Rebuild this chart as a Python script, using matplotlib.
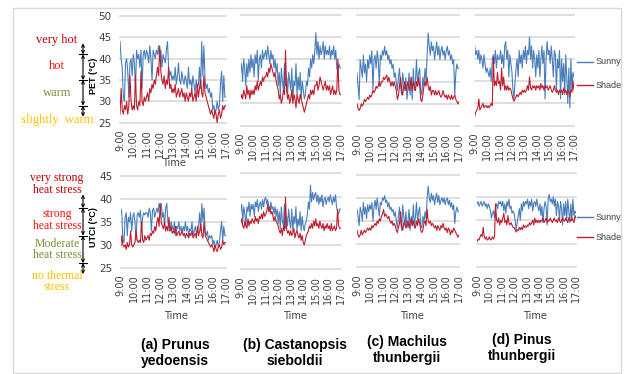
import numpy as np
import matplotlib
matplotlib.use('Agg')
import matplotlib.pyplot as plt
import matplotlib.transforms as mtransforms
from matplotlib.lines import Line2D
from matplotlib.patches import Rectangle

# 5-minute readings, 9:00 .. 17:00 (one row per hour, last value = 17:00)
pet_sunny_a = [44, 40, 38, 31, 30, 39, 40, 37, 31, 39, 40, 36,
               41, 39, 33, 42, 40, 41, 38, 42, 33, 41, 42, 40,
               42, 41, 39, 43, 40, 35, 42, 41, 40, 42, 41, 43,
               40, 42, 38, 41, 40, 39, 42, 44, 38, 36, 37, 35,
               36, 35, 38, 34, 36, 39, 35, 34, 37, 35, 34, 36,
               35, 33, 38, 34, 35, 33, 36, 34, 32, 35, 33, 34,
               38, 33, 44, 36, 43, 35, 33, 34, 32, 33, 31, 32,
               28, 29, 27, 28, 30, 28, 29, 34, 37, 30, 36, 31,
               31]
pet_shade_a = [27, 33, 28, 27, 29, 28, 30, 27, 29, 36, 30, 28,
               29, 28, 36, 29, 28, 30, 29, 37, 30, 29, 31, 30,
               31, 32, 30, 33, 32, 34, 33, 35, 34, 36, 38, 36,
               43, 37, 35, 34, 36, 33, 35, 34, 38, 33, 34, 32,
               33, 32, 34, 31, 32, 33, 31, 32, 33, 31, 32, 30,
               32, 31, 30, 32, 31, 33, 30, 31, 32, 30, 34, 31,
               33, 35, 32, 31, 36, 32, 31, 30, 29, 28, 27, 28,
               27, 26, 28, 27, 25, 27, 28, 26, 27, 29, 28, 29,
               29]
pet_sunny_b = [37, 39, 35, 40, 38, 34, 39, 36, 40, 37, 41, 38,
               40, 36, 41, 39, 42, 35, 40, 41, 38, 42, 40, 41,
               42, 40, 43, 41, 39, 42, 40, 41, 38, 40, 37, 39,
               34, 37, 32, 38, 35, 33, 39, 34, 36, 32, 37, 35,
               33, 38, 31, 35, 34, 39, 32, 36, 33, 37, 31, 35,
               33, 31, 32, 35, 34, 38, 36, 40, 38, 41, 39, 42,
               46, 41, 44, 40, 43, 41, 42, 44, 40, 43, 41, 42,
               41, 43, 40, 42, 41, 43, 40, 42, 38, 37, 39, 38,
               38]
pet_shade_b = [31, 32, 31, 33, 32, 31, 34, 32, 33, 31, 33, 32,
               33, 32, 34, 33, 35, 33, 34, 35, 34, 36, 35, 36,
               36, 37, 36, 38, 37, 39, 38, 37, 36, 37, 35, 34,
               33, 31, 32, 30, 31, 33, 32, 42, 33, 31, 32, 30,
               31, 33, 30, 32, 31, 29, 32, 31, 30, 32, 31, 30,
               29, 28, 29, 30, 31, 32, 31, 33, 32, 33, 32, 34,
               34, 35, 33, 34, 36, 35, 34, 33, 34, 35, 33, 34,
               33, 34, 32, 33, 34, 32, 33, 32, 33, 40, 33, 32,
               32]
pet_sunny_c = [37, 34, 31, 40, 38, 36, 41, 37, 39, 35, 40, 38,
               41, 39, 42, 33, 40, 41, 38, 42, 40, 34, 41, 40,
               42, 41, 43, 41, 42, 40, 41, 39, 40, 38, 39, 36,
               37, 35, 33, 36, 38, 34, 32, 37, 35, 33, 36, 31,
               34, 37, 32, 36, 31, 38, 33, 35, 40, 34, 37, 38,
               33, 32, 36, 34, 38, 35, 41, 46, 43, 41, 44, 42,
               43, 40, 42, 44, 41, 43, 40, 42, 43, 41, 42, 40,
               42, 43, 41, 42, 40, 41, 39, 40, 32, 37, 39, 38,
               38]
pet_shade_c = [30, 29, 28.5, 29, 30, 29.5, 30, 31, 30.5, 31, 31.5, 31,
               32, 31.5, 32, 33, 32.5, 33, 34, 33.5, 34, 35, 34, 35,
               35, 36, 35.5, 36, 36.5, 35, 36, 35, 34, 35, 34, 35,
               34, 33, 31, 32, 34, 36, 33, 32, 34, 35, 33, 34,
               35, 33, 34, 36, 33, 35, 34, 33, 35, 34, 36, 34,
               31, 30.5, 32, 34, 35, 34, 36, 34, 33, 34, 32, 33,
               33, 32, 33, 32, 32.5, 33, 32, 31.5, 32, 33, 32, 31.5,
               32, 31, 32, 31.5, 31, 32, 31, 31.5, 32, 31, 30.5, 30,
               30.5]
pet_sunny_d = [43, 41, 42, 40, 42, 39, 41, 40, 38, 41, 39, 37,
               38, 37, 36, 38, 35, 40, 41, 39, 42, 38, 41, 40,
               40, 42, 39, 41, 38, 43, 44, 40, 42, 36, 41, 39,
               37, 33, 31, 35, 38, 40, 36, 42, 39, 41, 38, 42,
               40, 43, 39, 42, 41, 45, 40, 43, 38, 42, 40, 36,
               41, 38, 42, 36, 40, 43, 39, 42, 31, 40, 44, 41,
               42, 39, 43, 40, 36, 42, 41, 33, 40, 38, 42, 31,
               40, 35, 39, 32, 41, 36, 30, 38, 29, 40, 33, 37,
               36]
pet_shade_d = [27, 28, 28.5, 29, 31, 28.5, 29, 29.5, 30, 29, 29.5, 29.5,
               29, 29.5, 29, 29.5, 30, 29.5, 40.5, 34, 35, 34, 37, 34.5,
               35, 33, 38, 34, 36, 33, 34, 33, 34, 33, 33.5, 33,
               32, 31, 30.5, 31, 31.5, 32, 31.5, 32, 32.5, 32, 33, 32.5,
               33, 32.5, 33, 34, 33, 36, 33.5, 33, 34, 33.5, 34, 33,
               34, 33.5, 34, 33, 34.5, 33.5, 34, 33, 34, 33.5, 34, 33,
               33.5, 34, 33, 32.5, 33, 34, 33, 32.5, 33, 32, 33, 32.5,
               33, 32, 33.5, 32.5, 33, 32, 33, 32.5, 31.5, 33, 32.5, 35,
               33]

utci_sunny_a = [38, 37, 31, 30.5, 36, 37, 32, 36, 35, 37, 33, 36,
                37, 35, 31, 36.5, 37, 36, 37.5, 33, 36, 37, 36.5, 37,
                37, 36, 38, 37, 33, 37.5, 38, 36, 37, 38, 37, 39,
                38, 39, 36, 37, 34, 38, 39, 35, 34, 33, 35, 34,
                33, 35, 32, 34, 33.5, 35, 33, 34, 32.5, 34, 33, 35,
                33, 34, 32, 33.5, 33, 35, 32, 33, 34, 32.5, 33, 34,
                37, 33, 39, 35, 38, 33, 32, 33, 31, 32, 31.5, 32,
                30, 31, 29.5, 30, 31, 29.5, 30.5, 33, 35, 31, 34, 32,
                32]
utci_shade_a = [29.5, 32, 30, 29.5, 30, 29, 30.5, 29.5, 30, 33, 30, 29.5,
                30, 30.5, 33, 31, 30.5, 31, 30.5, 35, 31, 30.5, 32, 31,
                31.5, 32, 31, 32.5, 32, 33, 32.5, 34, 33, 35, 36, 34,
                39, 35, 34, 33.5, 35, 33, 34, 33, 36, 33, 34, 32.5,
                33, 32.5, 34, 32, 32.5, 33, 32, 32.5, 33, 32, 32.5, 31.5,
                32.5, 32, 31.5, 32.5, 32, 33, 31.5, 32, 32.5, 31.5, 34, 32,
                33, 34.5, 32, 31.5, 35, 32, 31.5, 31, 30.5, 30, 29.5, 30,
                29.5, 28.5, 30, 29, 28.5, 29.5, 30, 29, 29.5, 31, 30, 30.5,
                30.5]
utci_sunny_b = [37, 38.5, 35, 38, 36.5, 34, 38, 37, 39, 36, 38.5, 37.5,
                38.5, 36, 39, 38, 39.5, 37, 38.5, 39, 37.5, 39.5, 38, 39.5,
                40, 38.5, 39.5, 38, 37, 39, 37.5, 38, 36.5, 38, 36, 37.5,
                34.5, 37, 33.5, 38, 35, 34, 38.5, 33.5, 36, 34, 37.5, 35,
                33.5, 37.5, 33, 36, 34.5, 38, 33, 35.5, 34, 37, 33, 36,
                34, 33, 34.5, 35, 36.5, 39, 37.5, 42.5, 39, 41, 39.5, 40.5,
                41, 39, 40.5, 38.5, 40, 39, 40.5, 38, 39.5, 40, 38.5, 39.5,
                40, 39, 40.5, 39.5, 38.5, 40, 39, 40.5, 38, 37, 36.5, 37.5,
                37.5]
utci_shade_b = [34.5, 35.5, 34, 33.5, 35, 34, 33.5, 35.5, 34, 35, 34.5, 35.5,
                35, 34.5, 36, 35, 35.5, 34.5, 36, 35.5, 36.5, 35.5, 37, 36,
                36.5, 37, 38.5, 37, 38, 36.5, 37, 36, 35, 36, 35, 34.5,
                34, 33, 32.5, 33.5, 32, 34, 33, 40, 33.5, 32.5, 33, 32,
                33, 32, 32.5, 33.5, 31.5, 32.5, 33, 32, 31.5, 32.5, 31, 32,
                30.5, 30, 31, 32, 32.5, 33, 34, 33.5, 34.5, 33.5, 35, 34,
                35.5, 34, 34.5, 33.5, 35, 34, 33.5, 34.5, 33, 34, 33.5, 34.5,
                33.5, 34, 33, 34.5, 33, 33.5, 34, 33, 33.5, 37.5, 34, 33.5,
                33.5]
utci_sunny_c = [37.5, 36, 34, 38, 37, 35, 39, 36.5, 38, 35.5, 38.5, 37,
                38.5, 37.5, 39, 35, 38, 39.5, 37.5, 40, 38, 36, 39, 38.5,
                40, 39.5, 40.5, 39, 39.5, 38, 39, 37.5, 38, 37, 37.5, 36,
                37, 35, 33.5, 36, 38, 35, 33, 38.5, 36, 34, 37, 33.5,
                35, 37.5, 33, 36, 34, 38.5, 33.5, 36, 39, 35, 37, 38,
                34, 33.5, 36, 34.5, 37, 35.5, 40, 42.5, 40, 39, 41, 39.5,
                40.5, 38.5, 40, 41, 39, 40.5, 38.5, 39.5, 40, 39, 40, 38.5,
                39.5, 40, 38.5, 39.5, 38, 39, 37.5, 38.5, 34.5, 37, 38, 37,
                37]
utci_shade_c = [33, 32, 31.5, 32, 33, 32, 32.5, 33, 32.5, 33, 33.5, 33,
                33.5, 33, 34, 33.5, 34, 34.5, 34, 35, 34.5, 35.5, 35, 36,
                36.5, 37.5, 36, 36.5, 36, 35.5, 36, 35, 34.5, 35, 34, 34.5,
                34, 33, 32.5, 33.5, 34.5, 37, 34, 33, 34.5, 35, 33.5, 34,
                35, 33.5, 34.5, 35.5, 34, 35, 34, 33.5, 35, 34, 35.5, 34.5,
                33, 32.5, 33, 34.5, 35, 34, 37.5, 35, 34.5, 35, 34, 34.5,
                34, 33.5, 34, 33, 34, 33.5, 33, 34, 33.5, 34.5, 33.5, 33,
                33.5, 32.5, 33.5, 33, 32, 33, 32.5, 33.5, 33, 32.5, 32, 31.5,
                32]
utci_sunny_d = [38.5, 39, 38, 38.5, 39, 38, 38.5, 39, 38, 38.5, 37.5, 38.5,
                38, 37, 35.5, 36.5, 37, 35.5, 38, 38.5, 37.5, 39, 38.5, 39,
                38, 39, 37, 38.5, 36.5, 39, 38, 39.5, 37.5, 38, 36.5, 37,
                36.5, 35, 33, 34.5, 36, 37.5, 35, 38.5, 37, 39, 38, 39,
                38.5, 39.5, 37.5, 39, 38, 39.5, 37, 38.5, 39, 38, 39.5, 38,
                37, 38.5, 36, 38, 34.5, 37.5, 39, 38, 34, 39.5, 40.5, 39,
                39.5, 38.5, 40, 38, 39.5, 36, 39, 38, 35, 39, 37.5, 34,
                38.5, 36, 39, 35, 39.5, 37, 34.5, 38.5, 35, 39.5, 36, 37,
                36.5]
utci_shade_d = [30.5, 31, 30.8, 31.5, 32, 31.5, 33.5, 31.5, 31, 31.5, 30.8, 31,
                31.5, 30.8, 31, 31.5, 31, 31.5, 38.5, 35, 34.5, 35.5, 34, 35,
                34.5, 35.5, 36.5, 34.5, 35, 34, 36, 34.5, 34, 34.5, 34, 33.5,
                33.5, 33, 32.5, 33, 32.8, 33.5, 33, 33.5, 33, 34, 33.5, 33.8,
                33.5, 34, 33.8, 34.5, 34, 34.5, 35, 34, 35.5, 34.5, 35, 34.5,
                35, 34.5, 35, 34.8, 35.5, 34.5, 35, 35.5, 34.5, 35, 34.8, 35.5,
                35, 34.5, 35, 35.5, 34.8, 35, 34.5, 35.5, 35, 34.5, 35, 35.5,
                35, 34.8, 35.5, 35, 34.5, 35.5, 35, 34.8, 35.5, 35, 34.5, 36,
                35.5]

hours = [9, 10, 11, 12, 13, 14, 15, 16, 17]
hour_labels = ['9:00', '10:00', '11:00', '12:00', '13:00', '14:00', '15:00', '16:00', '17:00']
species = ['(a) Prunus\nyedoensis', '(b) Castanopsis\nsieboldii',
           '(c) Machilus\nthunbergii', '(d) Pinus\nthunbergii']

pet_levels = ['very hot', 'hot', 'warm', 'slightly  warm']
pet_limits = [41, 35, 29]
utci_levels = ['very strong\nheat stress', 'strong\nheat stress',
               'Moderate\nheat stress', 'no thermal\nstress']
utci_limits = [38, 32, 26]
level_colors = ['#C00000', '#FF1010', '#76923C', '#FFC000']

SUNNY = '#4A7EBB'
SHADE = '#BE1E2D'
GRID = '#D9D9D9'
TXT = '#404040'

W, H = 627, 374


def fx(px):
    return px / W


def fy(py):
    return 1 - py / H


def box(x0, x1, y0, y1):
    return [fx(x0), fy(y1), (x1 - x0) / W, (y1 - y0) / H]


def draw_panel(ax, sunny, shade, ylim, show_y):
    for vals, col in [(sunny, SUNNY), (shade, SHADE)]:
        t = 9 + np.arange(len(vals)) * 8 / (len(vals) - 1)
        ax.plot(t, vals, color=col, lw=0.8)
    ax.set_xlim(9, 17)
    ax.set_ylim(*ylim)
    ax.set_yticks(np.arange(ylim[0], ylim[1] + 1, 5))
    ax.yaxis.grid(True, color=GRID, lw=1.2)
    for gl in ax.get_ygridlines():
        gl.set_clip_on(False)
    ax.set_axisbelow(True)
    for s in ax.spines.values():
        s.set_visible(False)
    ax.set_xticks(hours)
    ax.set_xticklabels(hour_labels, rotation=90, fontsize=7, color=TXT)
    ax.tick_params(length=0, pad=5)
    ax.tick_params(axis='y', pad=6, labelsize=7.5, labelcolor=TXT)
    if not show_y:
        ax.set_yticklabels([])


fig = plt.figure(figsize=(W / 100, H / 100), dpi=100)

top_boxes = [box(120, 226, 16, 122.7), box(240.5, 341, 15, 125.5),
             box(357, 459, 15.3, 126), box(474.7, 574, 15, 125.5)]
bot_boxes = [box(120.7, 226, 176, 267.7), box(240.7, 340.7, 173.3, 269),
             box(357, 459, 174.7, 267.3), box(477, 576, 173.3, 267.3)]

pet_data = [(pet_sunny_a, pet_shade_a), (pet_sunny_b, pet_shade_b),
            (pet_sunny_c, pet_shade_c), (pet_sunny_d, pet_shade_d)]
utci_data = [(utci_sunny_a, utci_shade_a), (utci_sunny_b, utci_shade_b),
             (utci_sunny_c, utci_shade_c), (utci_sunny_d, utci_shade_d)]

top_axes = []
bot_axes = []
for i in range(4):
    ax = fig.add_axes(top_boxes[i])
    draw_panel(ax, pet_data[i][0], pet_data[i][1], (25, 50), i == 0)
    top_axes.append(ax)
    ax = fig.add_axes(bot_boxes[i])
    draw_panel(ax, utci_data[i][0], utci_data[i][1], (25, 45), i == 0)
    bot_axes.append(ax)


def comfort_scale(ax, levels, limits, ends, text_y, ax_x, bar_x, lab_x, fs):
    tr = mtransforms.blended_transform_factory(ax.transAxes, ax.transData)
    stops = [ends[0]] + limits + [ends[1]]
    for a, b in zip(stops[:-1], stops[1:]):
        ax.annotate('', xy=(ax_x, b), xytext=(ax_x, a), xycoords=tr, textcoords=tr,
                    arrowprops=dict(arrowstyle='<->', lw=0.8, color='black',
                                    mutation_scale=5, shrinkA=0, shrinkB=0),
                    annotation_clip=False)
    for lim in limits:
        ax.plot(bar_x, [lim, lim], color='black', lw=0.8, transform=tr, clip_on=False)
    for txt, y, col in zip(levels, text_y, level_colors):
        ax.text(lab_x, y, txt, transform=tr, color=col, ha='center', va='center',
                fontsize=fs, family=['Liberation Serif', 'DejaVu Serif'],
                linespacing=0.95, clip_on=False)


comfort_scale(top_axes[0], pet_levels, pet_limits, (43.6, 26.4), [44.3, 38.3, 32, 25.7],
              -0.349, [-0.387, -0.311], -0.594, 9)
comfort_scale(bot_axes[0], utci_levels, utci_limits, (41, 23.6), [43.2, 35.4, 29, 22],
              -0.358, [-0.396, -0.32], -0.605, 8.5)

fig.text(fx(94), fy(76), 'PET (°C)', rotation=90, ha='center', va='center',
         fontsize=6.5, fontweight='bold', family='Liberation Sans')
fig.text(fx(94), fy(227), 'UTCI (°C)', rotation=90, ha='center', va='center',
         fontsize=6.5, fontweight='bold', family='Liberation Sans')

fig.text(fx(174), fy(163), 'Time', ha='center', va='center', fontsize=7, color=TXT)
for x in [176, 295, 412, 535]:
    fig.text(fx(x), fy(316), 'Time', ha='center', va='center', fontsize=7, color=TXT)

title_pos = [(175, 353), (295, 353), (407, 350), (522, 348)]
for name, (x, y) in zip(species, title_pos):
    fig.text(fx(x), fy(y), name, ha='center', va='center', fontsize=10,
             fontweight='bold', family='Liberation Sans', linespacing=1.2)

for y0, y1 in [(62, 85), (217, 237)]:
    for y, col, lab in [(y0, SUNNY, 'Sunny'), (y1, SHADE, 'Shade')]:
        fig.add_artist(Line2D([fx(577), fx(593)], [fy(y), fy(y)], color=col, lw=1))
        fig.text(fx(596), fy(y), lab, ha='left', va='center', fontsize=6.5,
                 color=TXT, family='Liberation Sans')

fig.add_artist(Rectangle((fx(13), fy(373)), (621 - 13) / W, (373 - 8) / H,
                         transform=fig.transFigure, fill=False, ec=GRID, lw=1))

fig.savefig('out.png', dpi=100)
